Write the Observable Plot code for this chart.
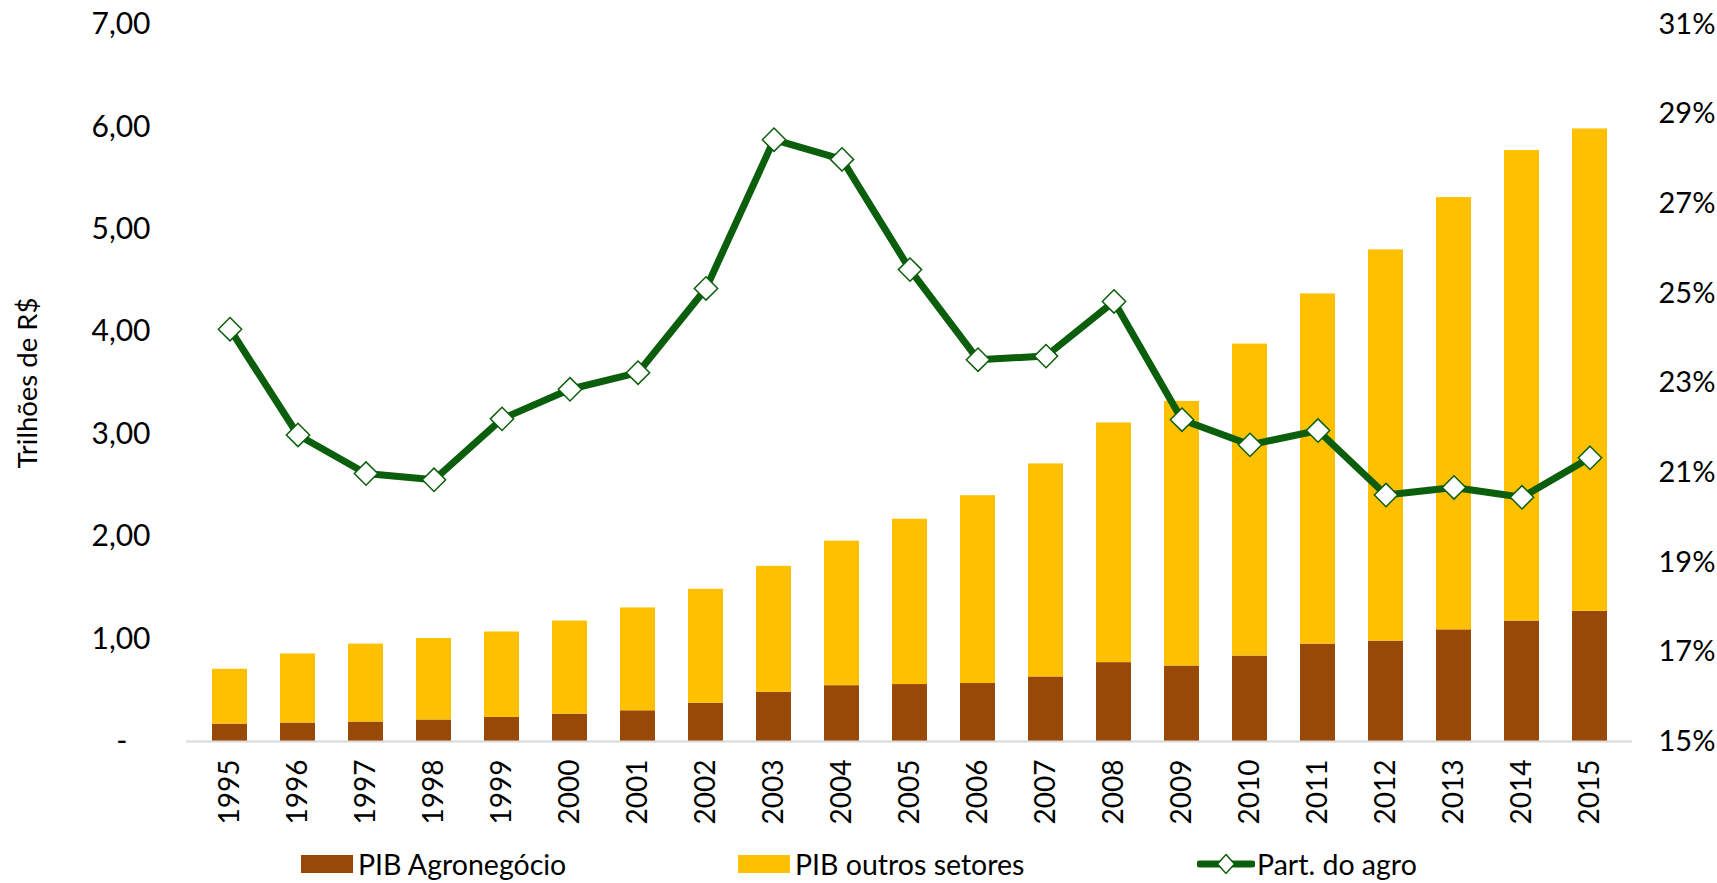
<!DOCTYPE html>
<html>
<head>
<meta charset="utf-8">
<script src="https://cdn.jsdelivr.net/npm/d3@7"></script>
<script src="https://cdn.jsdelivr.net/npm/@observablehq/plot@0.6"></script>
<style>
  html, body { margin: 0; padding: 0; background: #fff; }
  #wrap { position: relative; width: 1717px; height: 883px; font-family: Lato, sans-serif; }
  #legend { position: absolute; left: 0; top: 845px; width: 1717px; height: 38px; font-size: 28.5px; color: #000; }
  .item { position: absolute; top: 0; height: 38px; display: flex; align-items: center; }
  .sw { width: 52px; height: 18px; margin-right: 5px; }
</style>
</head>
<body>
<div id="wrap"><div id="chart"></div><div id="legend"></div></div>
<script>
const years = ["1995","1996","1997","1998","1999","2000","2001","2002","2003","2004","2005","2006","2007","2008","2009","2010","2011","2012","2013","2014","2015"];
const pibAgro = [0.17,0.18,0.19,0.21,0.235,0.267,0.30,0.374,0.48,0.545,0.556,0.566,0.63,0.77,0.737,0.834,0.951,0.98,1.09,1.176,1.27];
const pibOutros = [0.535,0.675,0.761,0.795,0.834,0.909,1.004,1.112,1.23,1.411,1.614,1.834,2.08,2.34,2.583,3.046,3.419,3.82,4.22,4.594,4.71];
const partAgro = [24.2,21.84,20.98,20.84,22.2,22.86,23.23,25.11,28.43,27.99,25.53,23.52,23.6,24.82,22.18,21.62,21.94,20.5,20.67,20.45,21.33];
const seriesNames = ["PIB Agronegócio","PIB outros setores","Part. do agro"];
const seriesColors = ["#984807","#FFC000","#0B5E0B"];
const leftTicks = [0,1,2,3,4,5,6,7];
const rightTicks = [15,17,19,21,23,25,27,29,31];
const yLabel = "Trilhões de R$";

// map right-axis (percent) onto the left-axis scale domain
const leftMin = leftTicks[0], leftMax = leftTicks[leftTicks.length-1];
const pMin = rightTicks[0], pMax = rightTicks[rightTicks.length-1];
const pctToY = p => leftMin + (p - pMin) / (pMax - pMin) * (leftMax - leftMin);
const yToPct = y => pMin + (y - leftMin) / (leftMax - leftMin) * (pMax - pMin);

const bars = [];
years.forEach((yr, i) => {
  bars.push({year: yr, series: seriesNames[0], value: pibAgro[i]});
  bars.push({year: yr, series: seriesNames[1], value: pibOutros[i]});
});
const line = years.map((yr, i) => ({year: yr, pct: partAgro[i]}));

const chart = Plot.plot({
  width: 1717,
  height: 845,
  marginTop: 24,
  marginBottom: 104,
  marginLeft: 186,
  marginRight: 85,
  style: {fontFamily: "Lato, sans-serif", fontSize: "28px", color: "#000", background: "#fff"},
  x: {domain: years, paddingInner: 0.49, paddingOuter: 0.245, label: null},
  y: {domain: [leftMin, leftMax], label: null},
  color: {domain: seriesNames.slice(0,2), range: seriesColors.slice(0,2)},
  marks: [
    Plot.barY(bars, {x: "year", y: "value", fill: "series", order: seriesNames.slice(0,2)}),
    Plot.ruleY([0], {stroke: "#D9D9D9", strokeWidth: 2}),
    Plot.line(line, {x: "year", y: d => pctToY(d.pct), stroke: seriesColors[2], strokeWidth: 7, strokeLinejoin: "round"}),
    Plot.dot(line, {x: "year", y: d => pctToY(d.pct), symbol: "diamond2", r: 10.5, fill: "#fff", stroke: seriesColors[2], strokeWidth: 1.5}),
    Plot.axisY({anchor: "left", ticks: leftTicks, tickSize: 0, tickPadding: 36, fontSize: 30, label: null,
      tickFormat: d => d === 0 ? "-\u00a0\u00a0\u00a0" : d.toFixed(2).replace(".", ",")}),
    Plot.axisY({anchor: "right", ticks: rightTicks.map(pctToY), tickSize: 0, tickPadding: 26, fontSize: 29, label: null,
      tickFormat: d => Math.round(yToPct(d)) + "%"}),
    Plot.axisX({tickRotate: -90, tickSize: 0, tickPadding: 18, fontSize: 28, label: null}),
    Plot.text([yLabel], {frameAnchor: "left", dx: -169, rotate: -90, lineAnchor: "top", textAnchor: "middle", fontSize: 27.5, fill: "#000"})
  ]
});
document.getElementById("chart").appendChild(chart);

// legend
const legend = document.getElementById("legend");
const legendPos = [301, 738, 1197];
seriesNames.forEach((name, i) => {
  const it = document.createElement("div");
  it.className = "item";
  it.style.left = legendPos[i] + "px";
  if (i < 2) {
    const sw = document.createElement("div");
    sw.className = "sw";
    sw.style.background = seriesColors[i];
    it.appendChild(sw);
  } else {
    const ns = "http://www.w3.org/2000/svg";
    const s = document.createElementNS(ns, "svg");
    s.setAttribute("width", "58"); s.setAttribute("height", "24");
    s.style.marginRight = "2px";
    const l = document.createElementNS(ns, "line");
    l.setAttribute("x1", "3"); l.setAttribute("x2", "55"); l.setAttribute("y1", "12"); l.setAttribute("y2", "12");
    l.setAttribute("stroke", seriesColors[2]); l.setAttribute("stroke-width", "7"); l.setAttribute("stroke-linecap", "round");
    const p = document.createElementNS(ns, "path");
    p.setAttribute("d", "M29,2.5L37.5,12L29,21.5L20.5,12Z");
    p.setAttribute("fill", "#fff"); p.setAttribute("stroke", seriesColors[2]); p.setAttribute("stroke-width", "1.5");
    s.appendChild(l); s.appendChild(p);
    it.appendChild(s);
  }
  const t = document.createElement("span");
  t.textContent = name;
  it.appendChild(t);
  legend.appendChild(it);
});
</script>
</body>
</html>
